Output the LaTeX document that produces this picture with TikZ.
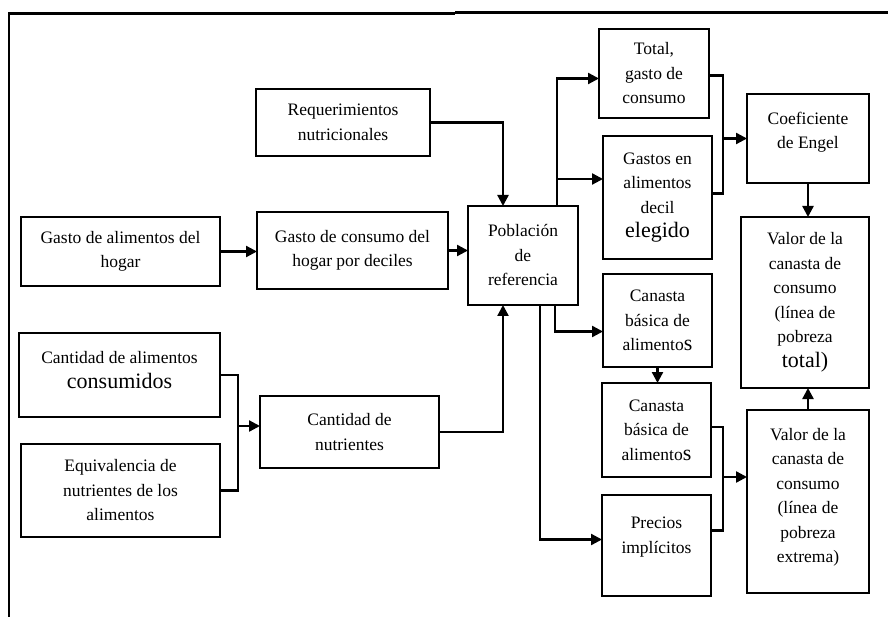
\documentclass[tikz,border=0pt]{standalone}
\usepackage{fontspec}
\setmainfont{Liberation Serif}
\usetikzlibrary{arrows.meta,calc}
\newcommand{\bigw}[1]{{\fontsize{22}{24.5}\selectfont #1}}
\tikzset{
  bx/.style={draw, line width=2.6pt, align=center, inner sep=0pt, outer sep=0pt,
    anchor=north west, font=\fontsize{17.5}{24.5}\selectfont},
  arr/.style={line width=2.3pt, -{Triangle[length=11pt,width=11pt]}},
  ln/.style={line width=2.3pt},
}
\begin{document}
\begin{tikzpicture}[x=1pt,y=-1pt]
\useasboundingbox (0,0) rectangle (888,617);
% frame
\draw[line width=2.6pt] (9,617) -- (9,13.5) -- (455,13.5);
\draw[line width=2.6pt] (455,12.5) -- (888,12.5);
% boxes
\node[bx, minimum width=174pt, minimum height=67pt] (req) at (256,89) {Requerimientos\\nutricionales};
\node[bx, minimum width=199pt, minimum height=69pt] (gal) at (21,217) {Gasto de alimentos del\\hogar};
\node[bx, minimum width=191pt, minimum height=77pt] (gcd) at (257,212) {Gasto de consumo del\\hogar por deciles};
\node[bx, minimum width=110pt, minimum height=99pt] (pob) at (468,206) {Población\\de\\referencia};
\node[bx, minimum width=110pt, minimum height=89pt] (tot) at (599,29) {Total,\\gasto de\\consumo};
\node[bx, minimum width=109pt, minimum height=123pt] (gad) at (603,136) {Gastos en\\alimentos\\decil\\\bigw{elegido}};
\node[bx, minimum width=109pt, minimum height=93pt] (cb1) at (603,274) {Canasta\\básica de\\alimento\bigw{s}};
\node[bx, minimum width=122pt, minimum height=89pt] (coef) at (747,94) {Coeficiente\\de Engel\\[-8pt]};
\node[bx, minimum width=128pt, minimum height=171pt] (vt) at (741,217) {Valor de la\\canasta de\\consumo\\(línea de\\pobreza\\\bigw{total)}};
\node[bx, minimum width=201pt, minimum height=84pt] (cac) at (19,333) {Cantidad de alimentos\\\bigw{consumidos}\\[-14pt]};
\node[bx, minimum width=199pt, minimum height=93pt] (eq) at (21,444) {Equivalencia de\\nutrientes de los\\alimentos};
\node[bx, minimum width=179pt, minimum height=72pt] (cn) at (260,396) {Cantidad de\\nutrientes};
\node[bx, minimum width=109pt, minimum height=94pt] (cb2) at (602,383) {Canasta\\básica de\\alimento\bigw{s}};
\node[bx, minimum width=109pt, minimum height=101pt] (pre) at (602,495) {Precios\\implícitos\\[-4pt]};
\node[bx, minimum width=122pt, minimum height=183pt] (ve) at (747,410) {Valor de la\\canasta de\\consumo\\(línea de\\pobreza\\extrema)\\[-12pt]};
% connectors
\draw[arr] (gal.east) -- (gal.east -| gcd.west);
\draw[arr] (gcd.east) -- (gcd.east -| pob.west);
\draw[arr] (req.east) -| ($(pob.north west)+(35,0)$);
\draw[arr] (cn.east) -| ($(pob.south west)+(35,0)$);
% bracket food quantities
\coordinate (b1) at (238,426);
\draw[ln] (cac.east) -| (b1) |- (eq.east);
\draw[arr] (b1) -- (b1 -| cn.west);
% population to top boxes
\coordinate (p1) at ($(pob.north west)+(89,0)$);
\coordinate (j1) at (557,179);
\draw[arr] (p1) |- ($(tot.west)+(0,5)$);
\draw[arr] (j1) -- (j1 -| gad.west);
% bracket to Engel
\coordinate (b2) at (723,138.5);
\draw[ln] ($(tot.east)+(0,2)$) -| (b2) |- ($(gad.east)+(0,-4)$);
\draw[arr] (b2) -- (b2 -| coef.west);
\draw[arr] (coef.south) -- (coef.south |- vt.north);
% population to lower boxes
\draw[arr] ($(pob.south west)+(87,0)$) |- ($(cb1.west)+(0,11)$);
\draw[arr] ($(pob.south west)+(72,0)$) |- ($(pre.west)+(0,-6)$);
\draw[arr] (cb1.south) -- (cb1.south |- cb2.north);
% bracket to extreme poverty
\coordinate (b3) at (723,477);
\draw[ln] ($(cb2.east)+(0,-3)$) -| (b3) |- ($(pre.east)+(0,-15)$);
\draw[arr] (b3) -- (b3 -| ve.west);
\draw[arr] (ve.north) -- (ve.north |- vt.south);
\end{tikzpicture}
\end{document}
